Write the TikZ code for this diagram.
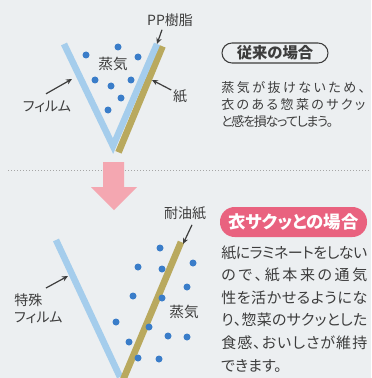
\documentclass[tikz,border=0pt]{standalone}
\usepackage{fontspec}
\setmainfont{Noto Sans CJK JP}[RawFeature={+palt}]
\usetikzlibrary{positioning,arrows.meta}

\definecolor{bgcol}{HTML}{ECEFF1}
\definecolor{filmblue}{HTML}{A5CDEC}
\definecolor{paperol}{HTML}{B9A95E}
\definecolor{steamdot}{HTML}{3A7DC9}
\definecolor{arrowpink}{HTML}{F4A7B1}
\definecolor{boxpink}{HTML}{E9627F}
\definecolor{inkgray}{HTML}{3D3D3D}

% one line set to a given width
\def\spreadchars#1{#1\spreadrest}
\def\spreadrest#1{\ifx#1\relax\else\hss#1\expandafter\spreadrest\fi}
\newcommand\fullline[2]{\hbox to #1{\spreadchars#2\relax}}

\begin{document}
\begin{tikzpicture}[x=0.75pt, y=-0.75pt,
  film/.style={draw=filmblue, line width=4.9pt},
  paper/.style={draw=paperol, line width=5pt},
  steam/.style={fill=steamdot},
  pointer/.style={draw=inkgray, line width=0.9pt, -{Stealth[length=4.5pt,width=4pt]}},
  tagtext/.style={font=\fontsize{10.5pt}{13pt}\selectfont, text=inkgray, inner sep=0pt},
  steamtext/.style={font=\fontsize{11pt}{13pt}\selectfont, text=inkgray, inner sep=0pt},
  para/.style={align=left, text=inkgray, inner sep=0pt, anchor=north west}
]
\useasboundingbox[fill=bgcol] (0,0) rectangle (371,378);

% Before: film + paper
\draw[paper] (162.5,46.3) -- (118.5,152.3);
\draw[film, line join=miter] (64,44) -- (113,146) -- (157,44);
\foreach \p in {(86,55),(118,47),(138,57),(95,80),(111,86),(131,80),(121,98),(108,110)}
  \fill[steam] \p circle[radius=3.5];

\node[steamtext] (steam1) at (113,64) {蒸気};
\node[tagtext] (pplbl) at (170,20) {PP樹脂};
\node[tagtext] (filmlbl) at (47,107) {フィルム};
\node[tagtext] (paperlbl) at (180,96) {紙};
\coordinate (pptip) at (157,44);
\coordinate (filmtip) at (72,79);
\coordinate (papertip) at (152,80);
\draw[pointer] (pplbl.south) ++(-8,3) -- (pptip);
\draw[pointer] (filmlbl.north) ++(-1,-7) -- (filmtip);
\draw[pointer] (paperlbl.west) ++(-1.5,-6) -- (papertip);

% Divider and arrow
\draw[draw=gray!70, line width=0.75pt, dash pattern=on 0.75pt off 1.5pt] (8,170) -- (371,170);
\fill[arrowpink] (103,162) -- (124,162) -- (124,187) -- (137,187) -- (114,210)
  -- (91,187) -- (103,187) -- cycle;

% After: special film + oil-proof paper
\draw[film] (56,240) -- (120,377);
\draw[paper] (181,242) -- (123,380);
\foreach \p in {(160,248),(138,267),(162,269),(193,263),(187,287),(133,296),(162,298),
  (116,322),(149,327),(168,336),(187,337),(129,342),(138,358),(159,359)}
  \fill[steam] \p circle[radius=3.5];

\node[steamtext] (steam2) at (184,312) {蒸気};
\node[tagtext] (oillbl) at (185,213) {耐油紙};
\node[tagtext, align=left, anchor=north west] (splbl) at (14,293) {特殊\\フィルム};
\coordinate (oiltip) at (183,244);
\coordinate (sptip) at (68,276);
\draw[pointer] (oillbl.south) ++(7,5) -- (oiltip);
\draw[pointer] (splbl.north west) ++(32,-5) -- (sptip);

% Right side texts
\node[draw=inkgray, line width=0.8pt, rounded corners=7.5pt, minimum width=79.5pt,
  minimum height=15pt, inner sep=0pt, text=inkgray,
  font=\fontsize{11.5pt}{13pt}\selectfont\bfseries] (oldtitle) at (275,53) {従来の場合};
\node[para, font=\fontsize{9.75pt}{12.75pt}\selectfont] (oldtext) at (221,81)
  {\fullline{108pt}{蒸気が抜けないため、}\\\fullline{108pt}{衣のある惣菜のサクッ}\\
   \fullline{84pt}{と感を損なってしまう。}};

\node[fill=boxpink, rounded corners=11pt, minimum width=110.25pt, minimum height=22.5pt,
  inner sep=0pt, text=white, font=\fontsize{13pt}{15pt}\selectfont\bfseries]
  (newtitle) at (293.5,222) {衣サクッとの場合};
\node[para, font=\fontsize{11.25pt}{16.9pt}\selectfont] (newtext) at (221,245.5)
  {\fullline{109.5pt}{紙にラミネートをしない}\\\fullline{109.5pt}{ので、紙本来の通気}\\
   \fullline{109.5pt}{性を活かせるようにな}\\\fullline{109.5pt}{り、惣菜のサクッとした}\\
   \fullline{109.5pt}{食感、おいしさが維持}\\できます。};
\end{tikzpicture}
\end{document}
